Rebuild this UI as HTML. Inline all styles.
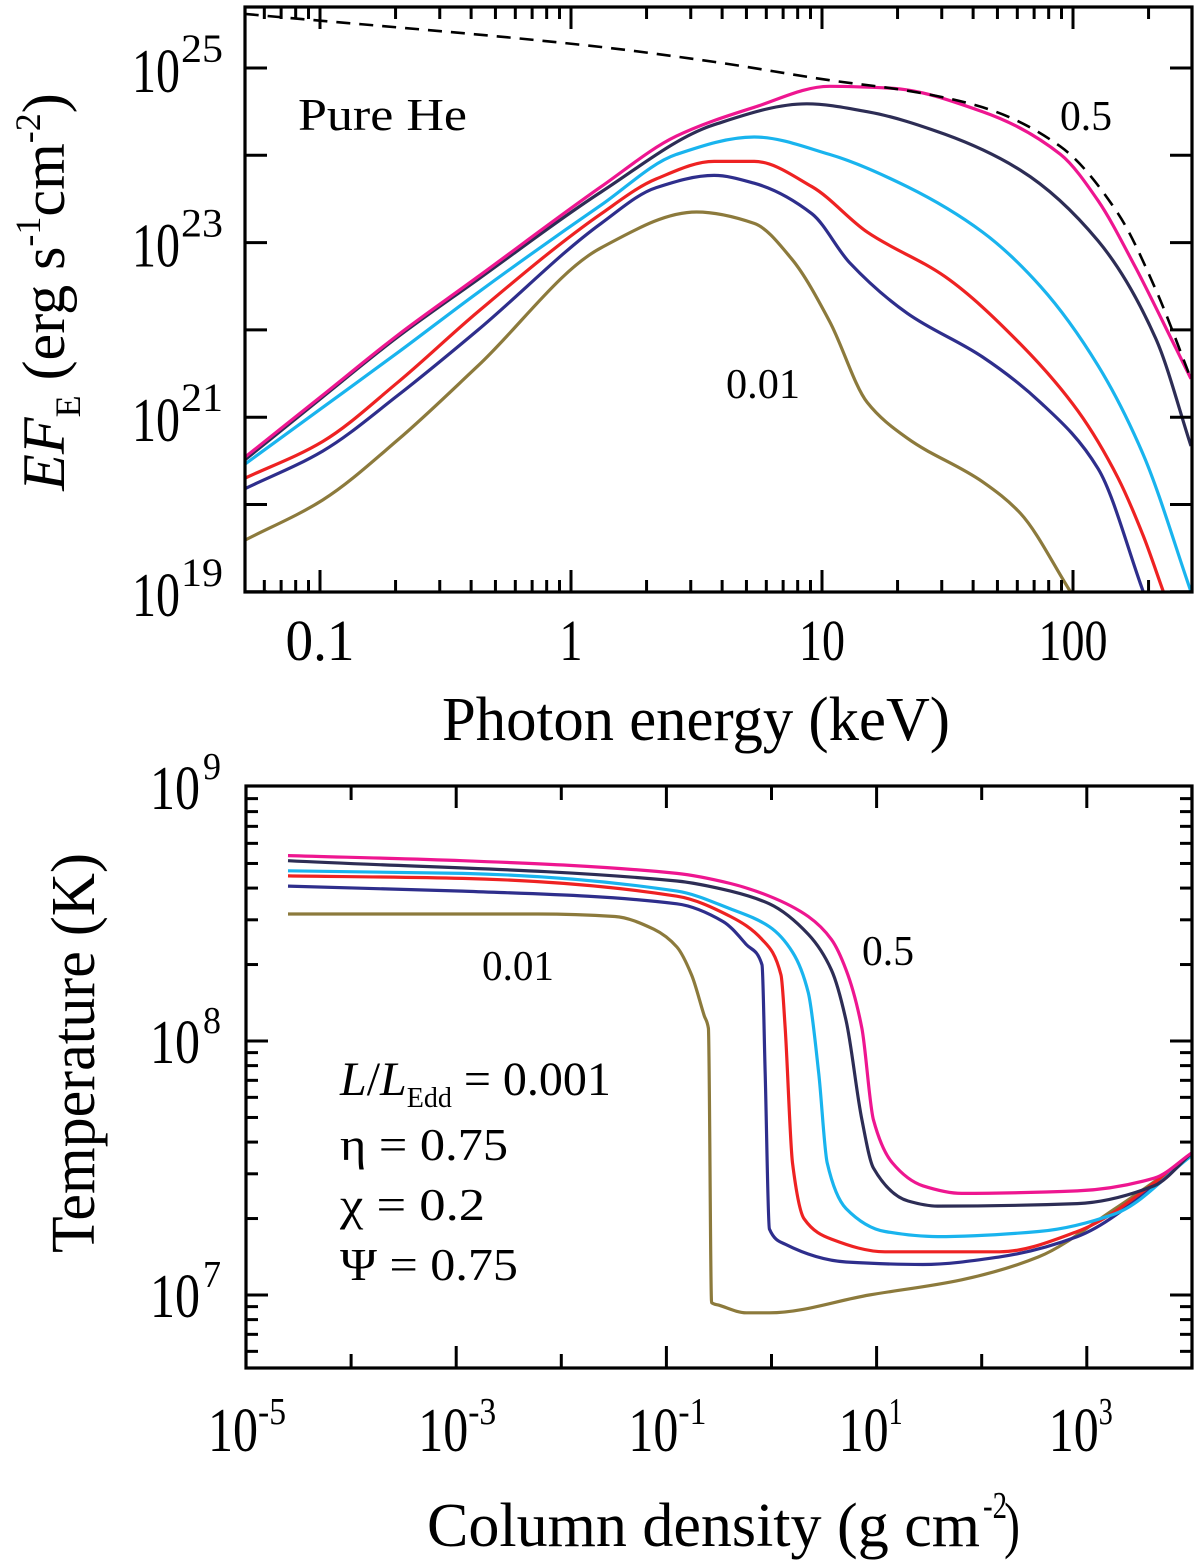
<!DOCTYPE html>
<html><head><meta charset="utf-8"><style>
html,body{margin:0;padding:0;background:#fff;}
svg{display:block;font-family:"Liberation Serif",serif;}
</style></head><body>
<svg id="fig" width="1200" height="1562" viewBox="0 0 1200 1562">
<g id="topPanel"></g>
<g id="botPanel"></g>
</svg>
<script>
// ---------- Top panel data (log10 E [keV], log10 EF_E) ----------
const specLogE_dashed = [-1.30,0.12,0.57,1.03,1.34,1.64,1.95,2.18,2.33,2.47];
const specLogF_dashed = [25.62,25.24,25.07,24.86,24.74,24.55,24.10,23.33,22.46,21.44];
const specLogE_pink = [-1.30,-0.99,-0.69,-0.37,0.12,0.42,0.73,1.03,1.27,1.64,1.95,2.10,2.25,2.41,2.47];
const specLogF_pink = [20.54,21.25,21.94,22.61,23.64,24.22,24.55,24.79,24.77,24.50,24.01,23.48,22.71,21.79,21.44];
const specLogE_dark = [-1.30,-0.99,-0.69,-0.37,0.12,0.57,0.94,1.18,1.49,1.79,2.10,2.33,2.47];
const specLogF_dark = [20.51,21.23,21.92,22.58,23.58,24.35,24.59,24.50,24.24,23.83,23.02,21.90,20.67];
const specLogE_cyan = [-1.30,-0.99,-0.69,-0.37,0.12,0.42,0.73,1.03,1.34,1.64,1.87,2.10,2.28,2.47];
const specLogF_cyan = [20.46,21.11,21.74,22.43,23.43,24.01,24.21,24.01,23.64,23.12,22.50,21.59,20.57,19.0];
const specLogE_red = [-1.30,-0.99,-0.69,-0.37,0.12,0.34,0.57,0.73,0.96,1.18,1.49,1.79,2.02,2.18,2.28,2.36];
const specLogF_red = [20.30,20.72,21.40,22.21,23.33,23.73,23.93,23.93,23.64,23.12,22.61,21.84,21.07,20.30,19.64,19.0];
const specLogE_blue = [-1.30,-0.99,-0.69,-0.37,0.12,0.34,0.57,0.73,0.96,1.11,1.34,1.64,1.87,2.10,2.28];
const specLogF_blue = [20.18,20.61,21.25,22.0,23.22,23.63,23.77,23.68,23.33,22.77,22.19,21.69,21.17,20.41,19.0];
const specLogE_olive = [-1.30,-0.99,-0.69,-0.37,0.12,0.50,0.73,0.88,1.03,1.18,1.34,1.64,1.79,1.99];
const specLogF_olive = [19.59,20.05,20.74,21.59,22.94,23.35,23.22,22.81,22.10,21.17,20.76,20.26,19.90,19.0];
const topXTickLabels = ["0.1","1","10","100"];
const topYTickLabels = ["25","23","21","19"];

// ---------- Bottom panel data (log10 column density, log10 T) ----------
const tLogN_pink = [-4.60,-2.94,-0.90,-0.39,-0.02,0.35,0.57,0.71,0.86,0.97,1.15,1.44,1.81,2.91,3.64,4.0];
const tLogT_pink = [8.73,8.71,8.66,8.62,8.57,8.49,8.40,8.28,8.05,7.69,7.52,7.43,7.40,7.41,7.46,7.56];
const tLogN_dark = [-4.60,-0.90,-0.39,-0.02,0.35,0.57,0.71,0.86,0.97,1.30,1.58,2.91,3.64,4.0];
const tLogT_dark = [8.71,8.63,8.59,8.54,8.42,8.28,8.08,7.69,7.50,7.37,7.35,7.36,7.43,7.56];
const tLogN_cyan = [-4.60,-2.94,-0.90,-0.39,-0.02,0.20,0.35,0.45,0.53,0.71,1.08,1.58,2.54,3.27,4.0];
const tLogT_cyan = [8.67,8.66,8.59,8.52,8.45,8.35,8.19,7.87,7.52,7.34,7.25,7.23,7.25,7.32,7.55];
const tLogN_red = [-4.60,-2.94,-0.90,-0.39,-0.09,0.09,0.13,0.20,0.31,0.57,1.08,2.17,2.91,4.0];
const tLogT_red = [8.65,8.64,8.57,8.49,8.40,8.26,8.05,7.52,7.30,7.22,7.17,7.17,7.25,7.55];
const tLogN_blue = [-4.60,-2.94,-0.90,-0.46,-0.24,-0.09,-0.06,-0.02,0.13,0.71,1.44,2.17,2.91,4.0];
const tLogT_blue = [8.61,8.59,8.54,8.47,8.38,8.30,7.87,7.26,7.20,7.13,7.12,7.15,7.23,7.55];
const tLogN_olive = [-4.60,-2.22,-1.49,-1.12,-0.90,-0.76,-0.64,-0.60,-0.57,-0.50,-0.24,-0.02,0.93,1.81,2.54,3.27,4.0];
const tLogT_olive = [8.50,8.50,8.49,8.44,8.37,8.26,8.10,8.05,6.97,6.96,6.93,6.93,7.00,7.06,7.15,7.34,7.55];
const botXTickExp = ["-5","-3","-1","1","3"];
const botYTickExp = ["9","8","7"];

const NS="http://www.w3.org/2000/svg";
function mk(tag, parent, attrs){const e=document.createElementNS(NS,tag);for(const k in attrs)e.setAttribute(k,attrs[k]);parent.appendChild(e);return e;}
function tsp(parent, s, attrs){const t=mk("tspan",parent,attrs||{});t.textContent=s;return t;}

const TX0=245,TX1=1192,TY0=7,TY1=592;
const tX = le => 571 + le*251;
const tY = lf => 68 + (25-lf)*87.3;
const BX0=246,BX1=1192,BY0=786,BY1=1368;
const bX = ln => 246 + (ln+5)*105.1;
const bY = lt => 1041 - (lt-8)*254;

// monotone cubic (Fritsch-Carlson) path in screen coords; x must be non-decreasing
function monoPath(xs, ys){
  const n=xs.length;
  const dx=[],m=[],t=new Array(n);
  for(let i=0;i<n-1;i++){dx.push(Math.max(xs[i+1]-xs[i],1e-6));m.push((ys[i+1]-ys[i])/dx[i]);}
  t[0]=m[0];t[n-1]=m[n-2];
  for(let i=1;i<n-1;i++){
    if(m[i-1]*m[i]<=0)t[i]=0;
    else{const w1=2*dx[i]+dx[i-1],w2=dx[i]+2*dx[i-1];t[i]=(w1+w2)/(w1/m[i-1]+w2/m[i]);}
  }
  let d="M"+xs[0].toFixed(1)+","+ys[0].toFixed(1);
  for(let i=0;i<n-1;i++){
    const h=dx[i]/3;
    d+=" C"+(xs[i]+h).toFixed(1)+","+(ys[i]+t[i]*h).toFixed(1)+" "+(xs[i+1]-h).toFixed(1)+","+(ys[i+1]-t[i+1]*h).toFixed(1)+" "+xs[i+1].toFixed(1)+","+ys[i+1].toFixed(1);
  }
  return d;
}

function txt(parent, x, y, s, size, anchor, len){
  const a={x:x,y:y,"font-size":size,"text-anchor":anchor||"start",fill:"#000"};
  if(len){a.textLength=len;a.lengthAdjust="spacingAndGlyphs";}
  const t=mk("text",parent,a);t.textContent=s;return t;
}

// ================= TOP PANEL =================
const topG=document.getElementById("topPanel");
const clipT=mk("clipPath",topG,{id:"clipT"});mk("rect",clipT,{x:TX0,y:TY0,width:TX1-TX0,height:TY1-TY0});
const curvesT=mk("g",topG,{"clip-path":"url(#clipT)"});
const topSeries=[
 [specLogE_olive,specLogF_olive,"#8c7a3c","curve-0.01"],
 [specLogE_blue,specLogF_blue,"#2e2e8c","curve-0.03"],
 [specLogE_red,specLogF_red,"#ee2222","curve-0.05"],
 [specLogE_cyan,specLogF_cyan,"#19b4ee","curve-0.1"],
 [specLogE_dark,specLogF_dark,"#2d2d55","curve-0.3"],
 [specLogE_pink,specLogF_pink,"#ee1690","curve-0.5"]];
topSeries.forEach(s=>{
  const p=mk("path",curvesT,{d:monoPath(s[0].map(tX),s[1].map(tY)),fill:"none",stroke:s[2],"stroke-width":3.2,"stroke-linejoin":"round"});
  
  
});
const dsh=mk("path",curvesT,{d:monoPath(specLogE_dashed.map(tX),specLogF_dashed.map(tY)),fill:"none",stroke:"#000","stroke-width":2.6,"stroke-dasharray":"14,9"});



const tk=mk("g",topG,{stroke:"#000","stroke-width":3});
for(let dec=-2;dec<=2;dec++){
  for(let m=1;m<=9;m++){
    const x=tX(dec+Math.log10(m));
    if(x<TX0+1||x>TX1-1) continue;
    const L=(m===1)?22:12;
    mk("line",tk,{x1:x,y1:TY1,x2:x,y2:TY1-L});
    mk("line",tk,{x1:x,y1:TY0,x2:x,y2:TY0+L});
  }
}
for(let lf=19;lf<=25;lf++){
  const y=tY(lf);
  mk("line",tk,{x1:TX0,y1:y,x2:TX0+22,y2:y});
  mk("line",tk,{x1:TX1,y1:y,x2:TX1-22,y2:y});
}
const fr=mk("rect",topG,{x:TX0,y:TY0,width:TX1-TX0,height:TY1-TY0,fill:"none",stroke:"#000","stroke-width":3.2});



topXTickLabels.forEach((s,i)=>{
  const t=txt(topG,tX(i-1),660,s,58,"middle",s.length*23);
  
  
});
topYTickLabels.forEach(s=>{
  const y=tY(+s);
  const g=mk("g",topG,{});
  
  
  txt(g,132,y+24,"10",62,"start",48);
  txt(g,181,y-6,s,40,"start",42);
});
const xt=txt(topG,696,740,"Photon energy (keV)",62,"middle",508);


const yt=mk("text",topG,{transform:"translate(64,292) rotate(-90)","text-anchor":"middle","font-size":60,fill:"#000"});


tsp(yt,"EF",{"font-style":"italic"});
tsp(yt,"E",{"font-size":36,dy:16});
tsp(yt," (erg s",{dy:-16});
tsp(yt,"-1",{"font-size":36,dy:-24});
tsp(yt,"cm",{dy:24});
tsp(yt,"-2",{"font-size":36,dy:-24});
tsp(yt,")",{dy:24});
const ph=txt(topG,298,130,"Pure He",46,"start",169);


const l05=txt(topG,1060,130,"0.5",42,"start",52);


const l001=txt(topG,726,398,"0.01",42,"start",74);



// ================= BOTTOM PANEL =================
const botG=document.getElementById("botPanel");
const clipB=mk("clipPath",botG,{id:"clipB"});mk("rect",clipB,{x:BX0,y:BY0,width:BX1-BX0,height:BY1-BY0});
const curvesB=mk("g",botG,{"clip-path":"url(#clipB)"});
const botSeries=[
 [tLogN_olive,tLogT_olive,"#8c7a3c","0.01"],
 [tLogN_blue,tLogT_blue,"#2e2e8c","0.03"],
 [tLogN_red,tLogT_red,"#ee2222","0.05"],
 [tLogN_cyan,tLogT_cyan,"#19b4ee","0.1"],
 [tLogN_dark,tLogT_dark,"#2d2d55","0.3"],
 [tLogN_pink,tLogT_pink,"#ee1690","0.5"]];
botSeries.forEach(s=>{
  const p=mk("path",curvesB,{d:monoPath(s[0].map(bX),s[1].map(bY)),fill:"none",stroke:s[2],"stroke-width":3.2,"stroke-linejoin":"round"});
  
  
});
const tkb=mk("g",botG,{stroke:"#000","stroke-width":3});
for(let d=-5;d<=4;d++){
  const x=bX(d); const L=(d%2!==0)?22:14;
  mk("line",tkb,{x1:x,y1:BY1,x2:x,y2:BY1-L});
  mk("line",tkb,{x1:x,y1:BY0,x2:x,y2:BY0+L});
}
for(let d=6;d<=8;d++){
  for(let m=1;m<=9;m++){
    const y=bY(d+Math.log10(m));
    if(y<BY0+1||y>BY1-1) continue;
    const L=(m===1)?22:12;
    mk("line",tkb,{x1:BX0,y1:y,x2:BX0+L,y2:y});
    mk("line",tkb,{x1:BX1,y1:y,x2:BX1-L,y2:y});
  }
}
const frb=mk("rect",botG,{x:BX0,y:BY0,width:BX1-BX0,height:BY1-BY0,fill:"none",stroke:"#000","stroke-width":3.2});



botXTickExp.forEach(s=>{
  const x=bX(+s);
  const g=mk("g",botG,{});
  
  
  txt(g,x-38,1451,"10",62,"start",50);
  txt(g,x+12,1424,s,38,"start",s.length*14);
});
botYTickExp.forEach(s=>{
  const y=bY(+s);
  const g=mk("g",botG,{});
  
  
  txt(g,150,y+22,"10",62,"start",50);
  txt(g,203,y-8,s,38,"start",18);
});
const bxt=txt(botG,427,1546,"Column density (g cm",62,"start",553);


const sup=txt(botG,983,1518,"-2",38,"start",24);


const par=txt(botG,1004,1546,")",62,"start",16);


const byt=mk("text",botG,{transform:"translate(94,1053) rotate(-90)","text-anchor":"middle","font-size":62,fill:"#000",textLength:400,lengthAdjust:"spacingAndGlyphs"});
byt.textContent="Temperature (K)";


const b001=txt(botG,482,980,"0.01",42,"start",72);


const b05=txt(botG,862,965,"0.5",42,"start",52);


const pg=mk("g",botG,{});


const p1=mk("text",pg,{x:340,y:1095,fill:"#000","font-size":48});
tsp(p1,"L",{"font-style":"italic"});
tsp(p1,"/");
tsp(p1,"L",{"font-style":"italic"});
tsp(p1,"Edd",{"font-size":28,dy:12});
tsp(p1," = 0.001",{dy:-12});
txt(pg,340,1160,"η = 0.75",46,"start",168);
txt(pg,340,1220,"χ = 0.2",46,"start",145);
txt(pg,340,1280,"Ψ = 0.75",46,"start",178);
</script>
</body></html>
